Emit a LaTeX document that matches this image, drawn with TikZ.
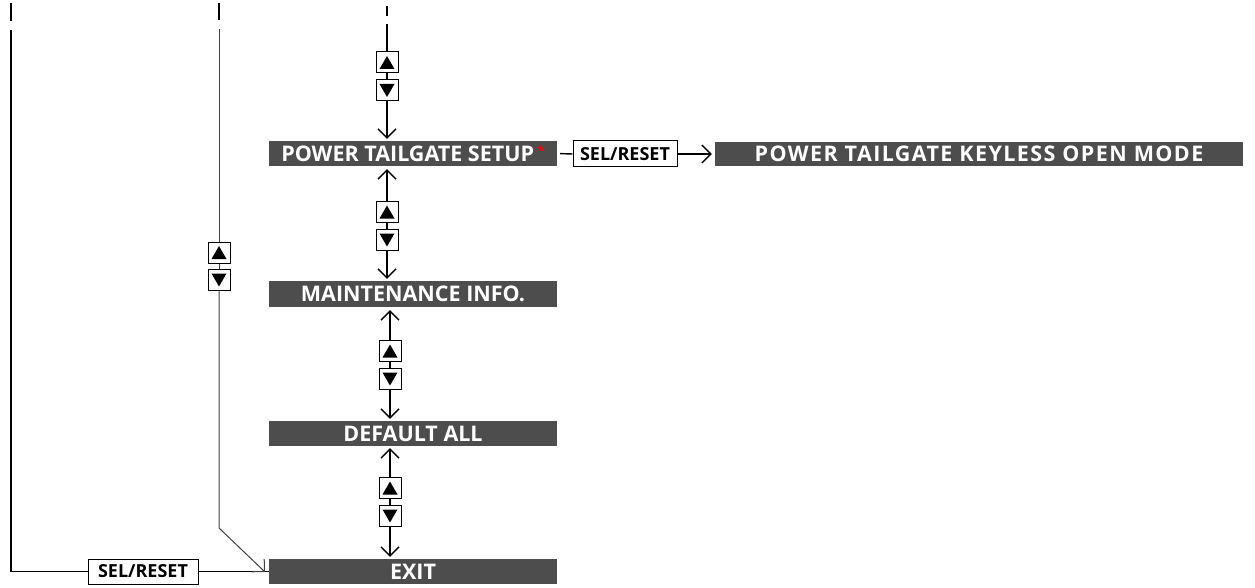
\documentclass[tikz,border=0pt]{standalone}
\usepackage{fontspec}
\setmainfont{Open Sans}
\usetikzlibrary{arrows.meta}
\definecolor{barcol}{HTML}{4D4D4D}
\begin{document}
\begin{tikzpicture}[x=1pt,y=-1pt,
 bar/.style={fill=barcol,text=white,font=\bfseries\fontsize{21.5}{21.5}\selectfont,inner sep=0pt,minimum height=25pt},
 selbox/.style={draw,line width=1pt,font=\bfseries\fontsize{18}{18}\selectfont,inner sep=0pt,minimum height=25pt},
 tribox/.style={draw,line width=1pt,minimum width=22pt,minimum height=21pt,inner sep=0pt,fill=white},
 up/.style={tribox,path picture={\fill[black] ([yshift=6.5pt]path picture bounding box.center) -- ([xshift=-7.5pt,yshift=-6.5pt]path picture bounding box.center) -- ([xshift=7.5pt,yshift=-6.5pt]path picture bounding box.center) -- cycle;}},
 dn/.style={tribox,path picture={\fill[black] ([yshift=-6.5pt]path picture bounding box.center) -- ([xshift=-7.5pt,yshift=6.5pt]path picture bounding box.center) -- ([xshift=7.5pt,yshift=6.5pt]path picture bounding box.center) -- cycle;}},
 conn/.style={line width=1.4pt},
 thin/.style={line width=1pt,black!75},
 arr/.style={conn,-{Straight Barb[length=9pt,width=18pt]}},
 thinarr/.style={thin,-{Straight Barb[length=9pt,width=18pt]}}
]
\useasboundingbox (0,0) rectangle (1255,588);
% bars
\node[bar,minimum width=288pt] (bar1) at (413,153.5) {POWER TAILGATE SETUP\,\raisebox{6pt}{\color{red}\fontsize{13}{13}\selectfont *}};
\node[bar,minimum width=288pt,minimum height=26pt] (bar2) at (413,294) {MAINTENANCE INFO.};
\node[bar,minimum width=288pt] (bar3) at (413,433.5) {DEFAULT ALL};
\node[bar,minimum width=288pt] (bar4) at (413,571.5) {EXIT};
\node[bar,minimum width=528pt,minimum height=24pt] (bar5) at (979,154) {\addfontfeature{LetterSpace=6.5}POWER TAILGATE KEYLESS OPEN MODE};
\node[selbox,minimum width=104pt,minimum height=26pt] (sel1) at (625,154) {SEL/RESET};
\node[selbox,minimum width=110pt] (sel2) at (143,571.5) {SEL/RESET};
% triangle boxes
\node[up] (u0) at (387,62.5) {};
\node[dn] (d0) at (387,90.5) {};
\node[up] (u1) at (387,212) {};
\node[dn] (d1) at (387,240) {};
\node[up] (u2) at (390,351) {};
\node[dn] (d2) at (390,379) {};
\node[up] (u3) at (390,488) {};
\node[dn] (d3) at (390,516) {};
\node[up] (u4) at (219,252.5) {};
\node[dn] (d4) at (219,280) {};
% coordinates
\coordinate (a1) at (11,3); \coordinate (a2) at (11,21); \coordinate (a3) at (11,30);
\coordinate (b1) at (219,3); \coordinate (b2) at (219,20); \coordinate (b3) at (219,29);
\coordinate (c1) at (387,6); \coordinate (c2) at (387,16); \coordinate (c3) at (387,24);
\coordinate (bend) at (219,528); \coordinate (exitin) at (265,572);
% top column
\draw[conn] (c1) -- (c2);
\draw[conn] (c3) -- (u0.north);
\draw[conn] (u0.south) -- (d0.north);
\draw[arr,shorten >=2pt] (d0.south) -- (d0.south |- bar1.north);
% between bars
\draw[arr,shorten >=3pt] (u1.north) -- (u1.north |- bar1.south);
\draw[conn] (u1.south) -- (d1.north);
\draw[arr,shorten >=2pt] (d1.south) -- (d1.south |- bar2.north);
\draw[arr,shorten >=3pt] (u2.north) -- (u2.north |- bar2.south);
\draw[conn] (u2.south) -- (d2.north);
\draw[arr,shorten >=2pt] (d2.south) -- (d2.south |- bar3.north);
\draw[arr,shorten >=2pt] (u3.north) -- (u3.north |- bar3.south);
\draw[conn] (u3.south) -- (d3.north);
\draw[arr,shorten >=2pt] (d3.south) -- (d3.south |- bar4.north);
% left loop
\draw[conn] (a1) -- (a2);
\draw[conn] (a3) |- (sel2.west);
\draw[conn] (sel2.east) -- (bar4.west);
% second loop
\draw[conn] (b1) -- (b2);
\draw[thin] (b3) -- (u4.north);
\draw[thin] (u4.south) -- (d4.north);
\draw[thinarr] (d4.south) -- (bend) -- (exitin);
% right branch
\draw[conn,shorten <=3pt] (bar1.east) -- (sel1.west);
\draw[arr,shorten >=3pt] (sel1.east) -- (bar5.west);
\end{tikzpicture}
\end{document}
